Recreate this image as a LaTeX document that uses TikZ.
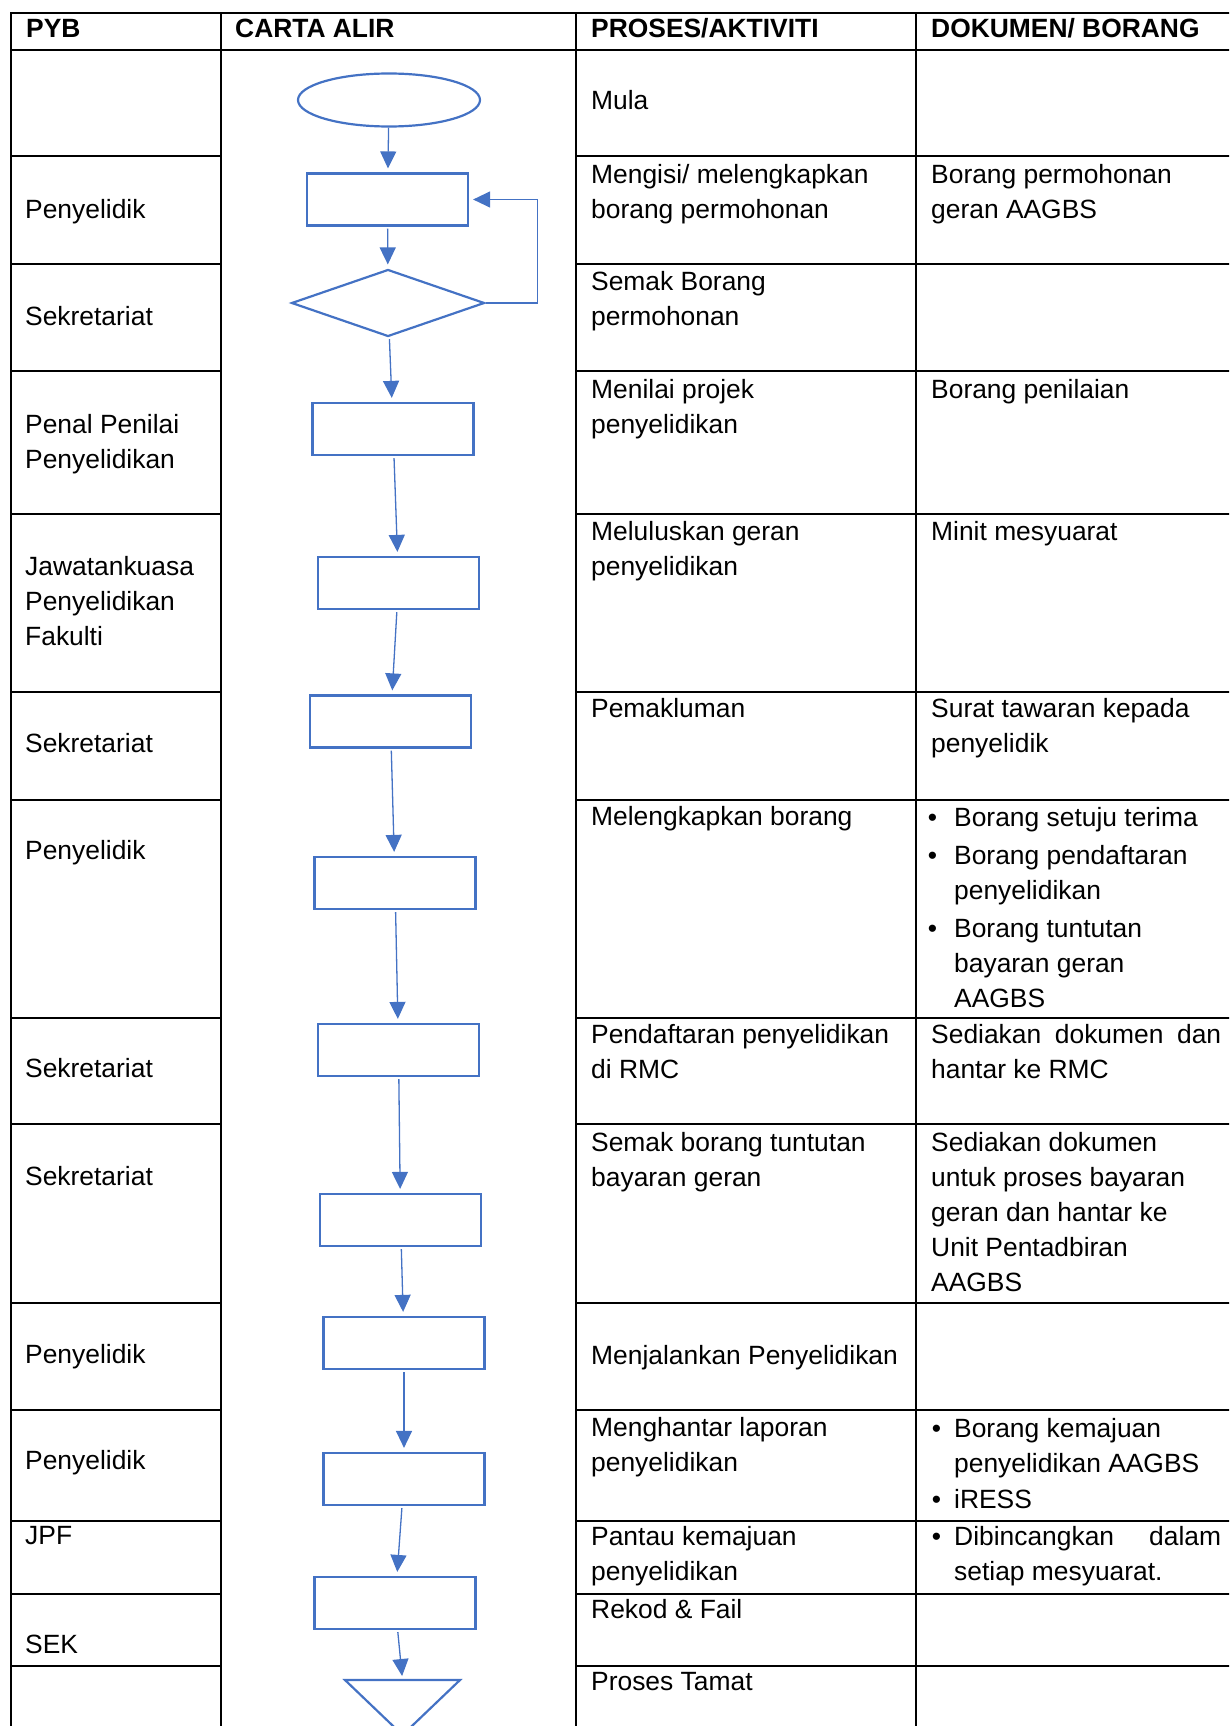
\documentclass[tikz,border=0pt]{standalone}
\usepackage{fontspec}
\setmainfont{Liberation Sans}
\usetikzlibrary{shapes.geometric, arrows.meta}
\definecolor{flowblue}{HTML}{4472C4}
\newcommand{\cellfont}{\fontsize{26.4}{35}\selectfont}
\newcommand{\lines}[1]{\begin{tabular}[t]{@{}l@{}}#1\end{tabular}}
\newcommand{\dotitem}[1]{\llap{\textbullet\hspace{#1}}}
\tikzset{tableline/.style = {line width = 1.8pt, black, line cap = rect}}
\tikzset{flowshape/.style = {draw = flowblue, line width = 2.2pt, inner sep = 0}}
\tikzset{procbox/.style = {flowshape, minimum width = 161pt, minimum height = 52pt}}
\tikzset{flow/.style = {draw = flowblue, line width = 1.3pt, -{Triangle[width = 16pt, length = 17pt]}, shorten > = 4pt, shorten < = 2pt}}
\tikzset{cell/.style = {anchor = base west, inner sep = 0, font = \cellfont}}
\tikzset{head/.style = {anchor = base west, inner sep = 0, font = \cellfont\bfseries}}

\begin{document}
\begin{tikzpicture}[x = 1pt, y = -1pt]
    \useasboundingbox (0, 0) rectangle (1229, 1726);
    \clip (0, 0) rectangle (1229, 1726);
    \draw [tableline] (11, 13) -- (1240, 13);
    \draw [tableline] (11, 50) -- (1240, 50);
    \foreach \x in {11, 221, 576, 916} \draw [tableline] (\x, 13) -- (\x, 1740);
    \foreach \y in {156, 264, 371, 514, 692, 800, 1018, 1124, 1303, 1410, 1521, 1594, 1666} {
      \draw [tableline] (11, \y) -- (221, \y);
      \draw [tableline] (576, \y) -- (1240, \y);
    }
    \node [head] (hpyb) at (26, 38) {PYB};
    \node [head] (hcarta) at (235, 38) {CARTA ALIR};
    \node [head] (hproses) at (591, 38) {PROSES/AKTIVITI};
    \node [head] (hdok) at (931, 38) {DOKUMEN/ BORANG};

    \node [cell] (pyb2) at (25, 218) {Penyelidik};
    \node [cell] (pyb3) at (25, 325) {Sekretariat};
    \node [cell] (pyb4) at (25, 433) {\lines{Penal Penilai\\Penyelidikan}};
    \node [cell] (pyb5) at (25, 575) {\lines{Jawatankuasa\\Penyelidikan\\Fakulti}};
    \node [cell] (pyb6) at (25, 752) {Sekretariat};
    \node [cell] (pyb7) at (25, 859) {Penyelidik};
    \node [cell] (pyb8) at (25, 1077) {Sekretariat};
    \node [cell] (pyb9) at (25, 1185) {Sekretariat};
    \node [cell] (pyb10) at (25, 1363) {Penyelidik};
    \node [cell] (pyb11) at (25, 1469) {Penyelidik};
    \node [cell] (pyb12) at (25, 1544) {JPF};
    \node [cell] (pyb13) at (25, 1653) {SEK};

    \node [cell] (akt1) at (591, 110) {Mula};
    \node [cell] (akt2) at (591, 183) {\lines{Mengisi/ melengkapkan\\borang permohonan}};
    \node [cell] (akt3) at (591, 290) {\lines{Semak Borang\\permohonan}};
    \node [cell] (akt4) at (591, 398) {\lines{Menilai projek\\penyelidikan}};
    \node [cell] (akt5) at (591, 540) {\lines{Meluluskan geran\\penyelidikan}};
    \node [cell] (akt6) at (591, 717) {Pemakluman};
    \node [cell] (akt7) at (591, 825) {Melengkapkan borang};
    \node [cell] (akt8) at (591, 1043) {\lines{Pendaftaran penyelidikan\\di RMC}};
    \node [cell] (akt9) at (591, 1151) {\lines{Semak borang tuntutan\\bayaran geran}};
    \node [cell] (akt10) at (591, 1364) {Menjalankan Penyelidikan};
    \node [cell] (akt11) at (591, 1436) {\lines{Menghantar laporan\\penyelidikan}};
    \node [cell] (akt12) at (591, 1545) {\lines{Pantau kemajuan\\penyelidikan}};
    \node [cell] (akt13) at (591, 1618) {Rekod \& Fail};
    \node [cell] (akt14) at (591, 1690) {Proses Tamat};

    \node [cell] (dok2) at (931, 183) {\lines{Borang permohonan\\geran AAGBS}};
    \node [cell] (dok4) at (931, 398) {Borang penilaian};
    \node [cell] (dok5) at (931, 540) {Minit mesyuarat};
    \node [cell] (dok6) at (931, 717) {\lines{Surat tawaran kepada\\penyelidik}};
    \node [cell] (dok7) at (954, 826) {\lines{\dotitem{17pt}Borang setuju terima\\[3pt]
      \dotitem{17pt}Borang pendaftaran\\penyelidikan\\[3pt]
      \dotitem{17pt}Borang tuntutan\\bayaran geran\\AAGBS}};
    \node [cell] (dok8) at (931, 1043) {\lines{\makebox[290pt][s]{Sediakan dokumen dan}\\hantar ke RMC}};
    \node [cell] (dok9) at (931, 1151) {\lines{Sediakan dokumen\\untuk proses bayaran\\geran dan hantar ke\\Unit Pentadbiran\\AAGBS}};
    \node [cell] (dok11) at (954, 1437) {\lines{\dotitem{13pt}Borang kemajuan\\penyelidikan AAGBS\\[1pt]
      \dotitem{13pt}iRESS}};
    \node [cell] (dok12) at (954, 1545) {\lines{\dotitem{13pt}\makebox[267pt][s]{Dibincangkan dalam}\\setiap mesyuarat.}};

    \node [flowshape, ellipse, minimum width = 182pt, minimum height = 53pt] (mula) at (389, 100) {};
    \node [procbox] (isi) at (387.5, 199.5) {};
    \node [flowshape, diamond, minimum width = 193pt, minimum height = 67pt] (semak) at (388, 303) {};
    \node [procbox] (nilai) at (393, 429) {};
    \node [procbox] (lulus) at (398.5, 583) {};
    \node [procbox] (maklum) at (390.5, 721.5) {};
    \node [procbox] (lengkap) at (395, 883) {};
    \node [procbox] (daftar) at (398.5, 1050) {};
    \node [procbox] (tuntut) at (400.5, 1220) {};
    \node [procbox] (jalan) at (404, 1343) {};
    \node [procbox] (hantar) at (404, 1479) {};
    \node [procbox] (pantau) at (395, 1603) {};
    \coordinate (tamat) at (402.5, 1680);
    \draw [flowshape, line join = miter] (345, 1680) -- (460, 1680) -- (402.5, 1735) -- cycle;

    \draw [flow, shorten < = 0pt] (mula) -- (isi);
    \draw [flow] (isi) -- (semak);
    \draw [flow, shorten < = 0pt] (semak.east) -- ++(52, 0) |- (isi.east);
    \draw [flow] (semak) -- (nilai);
    \draw [flow] (nilai) -- (lulus);
    \draw [flow] (lulus) -- (maklum);
    \draw [flow] (maklum) -- (lengkap);
    \draw [flow] (lengkap) -- (daftar);
    \draw [flow] (daftar) -- (tuntut);
    \draw [flow] (tuntut) -- (jalan);
    \draw [flow] (jalan) -- (hantar);
    \draw [flow] (hantar) -- (pantau);
    \draw [flow] (pantau) -- (tamat);
\end{tikzpicture}
\end{document}
